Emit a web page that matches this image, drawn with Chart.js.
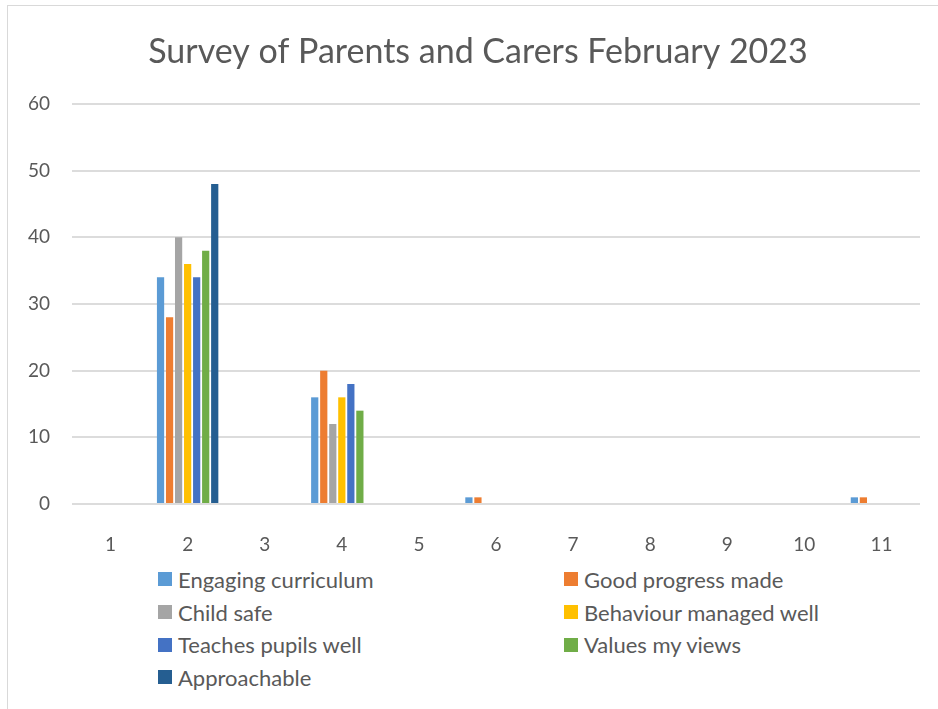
<!DOCTYPE html>
<html>
<head>
<meta charset="utf-8">
<title>Survey of Parents and Carers February 2023</title>
<script src="https://cdn.jsdelivr.net/npm/chart.js@4/dist/chart.umd.min.js"></script>
<style>
  body { margin: 0; background: #fff; width: 938px; height: 709px; overflow: hidden; position: relative; font-family: Lato, "Open Sans", sans-serif; }
  #frame { position: absolute; left: 7px; top: 5px; width: 940px; height: 720px; border: 1px solid #d9d9d9; box-sizing: border-box; }
  #chart { position: absolute; left: 0; top: 0; }
  #legend { position: absolute; left: 158px; top: 563px; display: grid; grid-template-columns: 406px 360px; grid-auto-rows: 32.7px; }
  .item { display: flex; align-items: center; font-size: 22px; color: #595959; }
  .swatch { width: 14px; height: 14px; margin-right: 6px; flex: none; }
</style>
</head>
<body>
<div id="frame"></div>
<canvas id="chart" width="938" height="560"></canvas>
<div id="legend"></div>
<script>
// Categories and series
const categories = ['1', '2', '3', '4', '5', '6', '7', '8', '9', '10', '11'];
const seriesNames = ['Engaging curriculum', 'Good progress made', 'Child safe', 'Behaviour managed well',
                     'Teaches pupils well', 'Values my views', 'Approachable'];
const engaging     = [0, 34, 0, 16, 0, 1, 0, 0, 0, 0, 1];
const progress     = [0, 28, 0, 20, 0, 1, 0, 0, 0, 0, 1];
const childSafe    = [0, 40, 0, 12, 0, 0, 0, 0, 0, 0, 0];
const behaviour    = [0, 36, 0, 16, 0, 0, 0, 0, 0, 0, 0];
const teaches      = [0, 34, 0, 18, 0, 0, 0, 0, 0, 0, 0];
const valuesViews  = [0, 38, 0, 14, 0, 0, 0, 0, 0, 0, 0];
const approachable = [0, 48, 0, 0, 0, 0, 0, 0, 0, 0, 0];
const yTicks = [0, 10, 20, 30, 40, 50, 60];
const titleText = 'Survey of Parents and Carers February 2023';

const colors = ['#5B9BD5', '#ED7D31', '#A5A5A5', '#FFC000', '#4472C4', '#70AD47', '#255E91'];
const allSeries = [engaging, progress, childSafe, behaviour, teaches, valuesViews, approachable];

const datasets = allSeries.map((data, i) => ({
    label: seriesNames[i],
    data: data,
    backgroundColor: colors[i],
    borderWidth: 0,
    categoryPercentage: 0.82,
    barPercentage: 0.8
}));

// Title centred on the frame rather than on the canvas (the built-in title can't be shifted)
const frameTitle = {
    id: 'frameTitle',
    afterDraw(chart) {
        const c = chart.ctx;
        c.save();
        c.font = '34px Lato';
        c.fillStyle = '#595959';
        c.textAlign = 'center';
        c.textBaseline = 'middle';
        c.fillText(titleText, 478, 52);
        c.restore();
    }
};

const ctx = document.getElementById('chart').getContext('2d');
const chart = new Chart(ctx, {
    type: 'bar',
    data: { labels: categories, datasets: datasets },
    plugins: [frameTitle],
    options: {
        responsive: false,
        animation: false,
        layout: { padding: { top: 104, right: 18, bottom: 0, left: 0 } },
        scales: {
            x: {
                grid: { display: false },
                border: { display: false },
                ticks: { color: '#595959', font: { family: 'Lato', size: 19 }, padding: 21, maxRotation: 0 },
                afterFit: scale => { scale.height = 56; }
            },
            y: {
                min: 0,
                max: 60,
                afterBuildTicks: scale => { scale.ticks = yTicks.map(v => ({ value: v })); },
                grid: { color: '#dcdcdc', lineWidth: 2, drawTicks: false },
                border: { display: false },
                ticks: { color: '#595959', font: { family: 'Lato', size: 19 }, padding: 22 },
                afterFit: scale => { scale.width = 72; }
            }
        },
        plugins: {
            legend: { display: false },
            tooltip: { enabled: false },
            title: { display: false }
        }
    }
});

// HTML legend in two columns, built from the datasets
const legend = document.getElementById('legend');
chart.data.datasets.forEach(ds => {
    const item = document.createElement('div');
    item.className = 'item';
    const sw = document.createElement('span');
    sw.className = 'swatch';
    sw.style.background = ds.backgroundColor;
    const txt = document.createElement('span');
    txt.textContent = ds.label;
    item.appendChild(sw);
    item.appendChild(txt);
    legend.appendChild(item);
});
</script>
</body>
</html>
